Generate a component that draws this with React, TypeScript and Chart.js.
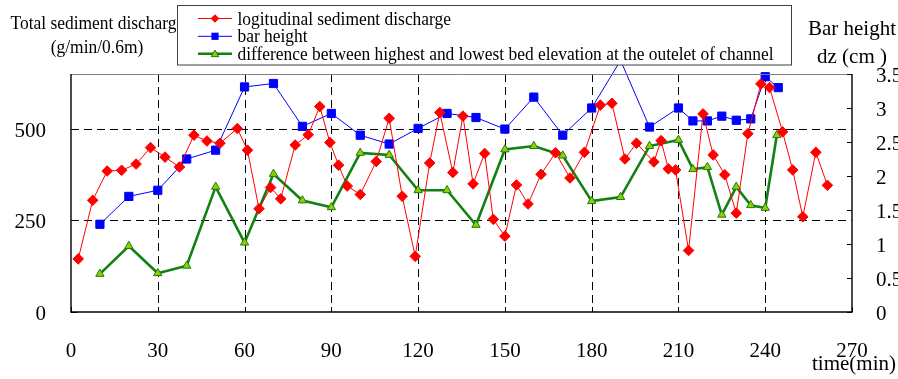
import React, { useEffect, useRef } from 'react';
import { Chart, registerables } from 'chart.js';

Chart.register(...registerables);

// ---------- data ----------
const xTicks = [0, 30, 60, 90, 120, 150, 180, 210, 240, 270];
const leftTicks = [0, 250, 500];
const rightTicks = [0, 0.5, 1, 1.5, 2, 2.5, 3, 3.5];

const sedimentTime = [2.5, 7.5, 12.5, 17.5, 22.5, 27.5, 32.5, 37.5, 42.5, 47, 51.5, 57.5, 61, 65, 69, 72.5, 77.5, 82, 86, 89.5, 92.5, 95.5, 100, 105.5, 110, 114.5, 119, 124, 127.5, 132, 135.5, 139, 143, 146, 150, 154, 158, 162.5, 167.5, 172.5, 177.5, 183, 187, 191.5, 195.5, 201.5, 204, 206.5, 209, 213.5, 218.5, 222, 226, 230, 234, 238.5, 241.5, 246, 249.5, 253, 257.5, 261.5];
const sedimentValue = [145, 305, 385, 387, 404, 449, 423, 396, 483, 467, 461, 501, 442, 282, 340, 309, 456, 484, 561, 463, 401, 344, 321, 411, 529, 316, 152, 407, 545, 381, 535, 350, 433, 253, 207, 347, 295, 376, 435, 366, 436, 565, 570, 418, 461, 410, 468, 391, 388, 168, 541, 429, 375, 270, 487, 623, 613, 492, 388, 260, 436, 346];

const barTime = [10, 20, 30, 40, 50, 60, 70, 80, 90, 100, 110, 120, 130, 140, 150, 160, 170, 180, 190, 200, 210, 215, 220, 225, 230, 235, 240, 244.5];
const barHeight = [1.29, 1.70, 1.79, 2.25, 2.38, 3.31, 3.36, 2.73, 2.92, 2.60, 2.47, 2.70, 2.92, 2.86, 2.69, 3.16, 2.60, 3.00, 3.70, 2.72, 3.00, 2.81, 2.81, 2.88, 2.82, 2.84, 3.46, 3.30];

const diffTime = [10, 20, 30, 40, 50, 60, 70, 80, 90, 100, 110, 120, 130, 140, 150, 160, 170, 180, 190, 200, 210, 215, 220, 225, 230, 235, 240, 244];
const diffValue = [0.56, 0.97, 0.57, 0.68, 1.84, 1.02, 2.03, 1.64, 1.54, 2.34, 2.31, 1.79, 1.79, 1.28, 2.39, 2.44, 2.30, 1.63, 1.69, 2.44, 2.53, 2.10, 2.13, 1.43, 1.84, 1.57, 1.53, 2.60];

const legendLabels = [
  'logitudinal sediment discharge',
  'bar height',
  'difference between highest and lowest bed elevation at the outelet of channel',
];

const FONT = "'Liberation Serif', 'Times New Roman', serif";
const RED = '#ff0000';
const BLUE = '#0000ff';
const GREEN = '#128012';
const TRI_FILL = '#99cc00';

function drawMarker(ctx: CanvasRenderingContext2D, kind: string, cx: number, cy: number, s: number) {
  ctx.beginPath();
  if (kind === 'diamond') {
    ctx.moveTo(cx, cy - s);
    ctx.lineTo(cx + s, cy);
    ctx.lineTo(cx, cy + s);
    ctx.lineTo(cx - s, cy);
    ctx.closePath();
    ctx.fillStyle = RED;
    ctx.fill();
  } else if (kind === 'square') {
    ctx.rect(cx - s, cy - s, 2 * s, 2 * s);
    ctx.fillStyle = BLUE;
    ctx.fill();
  } else {
    ctx.moveTo(cx, cy - s);
    ctx.lineTo(cx + s, cy + s * 0.75);
    ctx.lineTo(cx - s, cy + s * 0.75);
    ctx.closePath();
    ctx.fillStyle = TRI_FILL;
    ctx.fill();
    ctx.strokeStyle = GREEN;
    ctx.lineWidth = 1;
    ctx.stroke();
  }
}

const framePlugin = {
  id: 'frameAndText',
  beforeDatasetsDraw(chart: any) {
    const { ctx, chartArea: a, scales } = chart;
    ctx.save();
    ctx.strokeStyle = '#000';
    ctx.lineWidth = 1;
    ctx.setLineDash([8, 5]);
    for (const v of [250, 500]) {
      const y = Math.round(scales.y.getPixelForValue(v)) + 0.5;
      ctx.beginPath();
      ctx.moveTo(a.left, y);
      ctx.lineTo(a.right, y);
      ctx.stroke();
    }
    for (const v of xTicks) {
      if (v === 0 || v === 270) continue;
      const x = Math.round(scales.x.getPixelForValue(v)) + 0.5;
      ctx.beginPath();
      ctx.moveTo(x, a.top);
      ctx.lineTo(x, a.bottom);
      ctx.stroke();
    }
    ctx.restore();
  },
  afterDatasetsDraw(chart: any) {
    const { ctx, chartArea: a, scales } = chart;
    ctx.save();
    ctx.setLineDash([]);
    ctx.strokeStyle = '#808080';
    ctx.lineWidth = 1;
    ctx.beginPath();
    ctx.moveTo(a.left, a.top + 0.5);
    ctx.lineTo(a.right, a.top + 0.5);
    ctx.stroke();
    ctx.strokeStyle = '#000';
    ctx.lineWidth = 1.4;
    ctx.beginPath();
    ctx.moveTo(a.left, a.top);
    ctx.lineTo(a.left, a.bottom);
    ctx.lineTo(a.right, a.bottom);
    ctx.lineTo(a.right, a.top);
    ctx.stroke();
    ctx.lineWidth = 1;
    for (const v of leftTicks) {
      const y = Math.round(scales.y.getPixelForValue(v)) + 0.5;
      ctx.beginPath();
      ctx.moveTo(a.left, y);
      ctx.lineTo(a.left + 6, y);
      ctx.stroke();
    }
    for (const v of rightTicks) {
      const y = Math.round(scales.y1.getPixelForValue(v)) + 0.5;
      ctx.beginPath();
      ctx.moveTo(a.right, y);
      ctx.lineTo(a.right - 5, y);
      ctx.stroke();
    }
    for (const v of xTicks) {
      const x = Math.round(scales.x.getPixelForValue(v)) + 0.5;
      ctx.beginPath();
      ctx.moveTo(x, a.bottom);
      ctx.lineTo(x, a.bottom - 5);
      ctx.stroke();
    }
    ctx.restore();
  },
  afterDraw(chart: any) {
    const { ctx } = chart;
    ctx.save();
    ctx.fillStyle = '#000';
    ctx.textBaseline = 'alphabetic';

    ctx.font = `19px ${FONT}`;
    const tw = ctx.measureText('Total sediment discharg').width;
    const tsx = 166 / tw;
    ctx.save();
    ctx.translate(10.5, 28.5);
    ctx.scale(tsx, 1);
    ctx.textAlign = 'left';
    ctx.fillText('Total sediment discharge', 0, 0);
    ctx.restore();
    ctx.save();
    ctx.translate(97, 52.5);
    ctx.scale(tsx, 1);
    ctx.textAlign = 'center';
    ctx.fillText('(g/min/0.6m)', 0, 0);
    ctx.restore();

    const bx = 177.5, by = 5.5, bw = 614, bh = 59.5;
    ctx.fillStyle = '#fff';
    ctx.fillRect(bx, by, bw, bh);
    ctx.strokeStyle = '#404040';
    ctx.lineWidth = 1;
    ctx.strokeRect(bx, by, bw, bh);

    const rows = [18.5, 36.3, 53.8];
    const kinds = ['diamond', 'square', 'triangle'];
    const colors = [RED, BLUE, GREEN];
    const widths = [1, 1, 2.5];
    ctx.font = `18px ${FONT}`;
    const lw = ctx.measureText(legendLabels[2]).width;
    const lsx = 536 / lw;
    rows.forEach((cy, i) => {
      ctx.strokeStyle = colors[i];
      ctx.lineWidth = widths[i];
      ctx.beginPath();
      ctx.moveTo(198, cy);
      ctx.lineTo(232, cy);
      ctx.stroke();
      drawMarker(ctx, kinds[i], 215, cy, i === 0 ? 4.3 : i === 1 ? 3.6 : 3.8);
      ctx.save();
      ctx.translate(237.5, cy + 6);
      ctx.scale(lsx, 1);
      ctx.fillStyle = '#000';
      ctx.textAlign = 'left';
      ctx.fillText(legendLabels[i], 0, 0);
      ctx.restore();
    });

    ctx.fillStyle = '#000';
    ctx.font = `21px ${FONT}`;
    ctx.textAlign = 'center';
    ctx.fillText('Bar height', 852, 35);
    ctx.fillText('dz (cm )', 852, 63);
    ctx.fillText('time(min)', 854, 370);
    ctx.restore();
  },
};

export default function App() {
  const ref = useRef<HTMLCanvasElement | null>(null);

  useEffect(() => {
    document.body.style.margin = '0';
    const canvas = ref.current;
    if (!canvas) return;

    const tickFont = { family: FONT, size: 21 };

    const chart = new Chart(canvas, {
      type: 'line',
      data: {
        datasets: [
          {
            label: legendLabels[0],
            data: sedimentTime.map((t, i) => ({ x: t, y: sedimentValue[i] })),
            yAxisID: 'y',
            borderColor: RED,
            backgroundColor: RED,
            borderWidth: 1,
            pointStyle: 'rectRot',
            pointRadius: 5.3,
            pointBorderWidth: 1,
            pointBackgroundColor: RED,
            pointBorderColor: RED,
            tension: 0,
          },
          {
            label: legendLabels[1],
            data: barTime.map((t, i) => ({ x: t, y: barHeight[i] })),
            yAxisID: 'y1',
            borderColor: BLUE,
            backgroundColor: BLUE,
            borderWidth: 1,
            pointStyle: 'rect',
            pointRadius: 5.8,
            pointBorderWidth: 1,
            pointBackgroundColor: BLUE,
            pointBorderColor: BLUE,
            tension: 0,
            clip: false,
          },
          {
            label: legendLabels[2],
            data: diffTime.map((t, i) => ({ x: t, y: diffValue[i] })),
            yAxisID: 'y1',
            borderColor: GREEN,
            backgroundColor: TRI_FILL,
            borderWidth: 2.6,
            pointStyle: 'triangle',
            pointRadius: 4.8,
            pointBorderWidth: 1,
            pointBackgroundColor: TRI_FILL,
            pointBorderColor: GREEN,
            tension: 0,
          },
        ] as any,
      },
      options: {
        responsive: false,
        animation: false,
        events: [],
        layout: { padding: { top: 74, left: 0, right: 0, bottom: 0 } },
        plugins: {
          legend: { display: false },
          title: { display: false },
          tooltip: { enabled: false },
        },
        scales: {
          x: {
            type: 'linear',
            position: 'bottom',
            min: 0,
            max: 270,
            afterBuildTicks: (s: any) => {
              s.ticks = xTicks.map((v) => ({ value: v }));
            },
            afterFit: (s: any) => {
              s.height = 67;
            },
            ticks: {
              font: tickFont,
              color: '#000',
              padding: 19,
              maxRotation: 0,
              autoSkip: false,
              callback: (v: any) => String(v),
            },
            grid: { display: false },
            border: { display: false },
          },
          y: {
            type: 'linear',
            position: 'left',
            min: 0,
            max: 650,
            afterBuildTicks: (s: any) => {
              s.ticks = leftTicks.map((v) => ({ value: v }));
            },
            afterFit: (s: any) => {
              s.width = 71;
            },
            ticks: {
              font: tickFont,
              color: '#000',
              padding: 17,
              labelOffset: 2.5,
              callback: (v: any) => String(v),
            },
            grid: { display: false },
            border: { display: false },
          },
          y1: {
            type: 'linear',
            position: 'right',
            min: 0,
            max: 3.5,
            afterBuildTicks: (s: any) => {
              s.ticks = rightTicks.map((v) => ({ value: v }));
            },
            afterFit: (s: any) => {
              s.width = 46;
            },
            ticks: {
              font: tickFont,
              color: '#000',
              padding: 16,
              labelOffset: 2,
              callback: (v: any) => String(v),
            },
            grid: { display: false },
            border: { display: false },
          },
        },
      } as any,
      plugins: [framePlugin],
    });

    return () => chart.destroy();
  }, []);

  return (
    <div style={{ width: 898, height: 379, background: '#fff' }}>
      <canvas ref={ref} width={898} height={379} style={{ display: 'block' }} />
    </div>
  );
}
